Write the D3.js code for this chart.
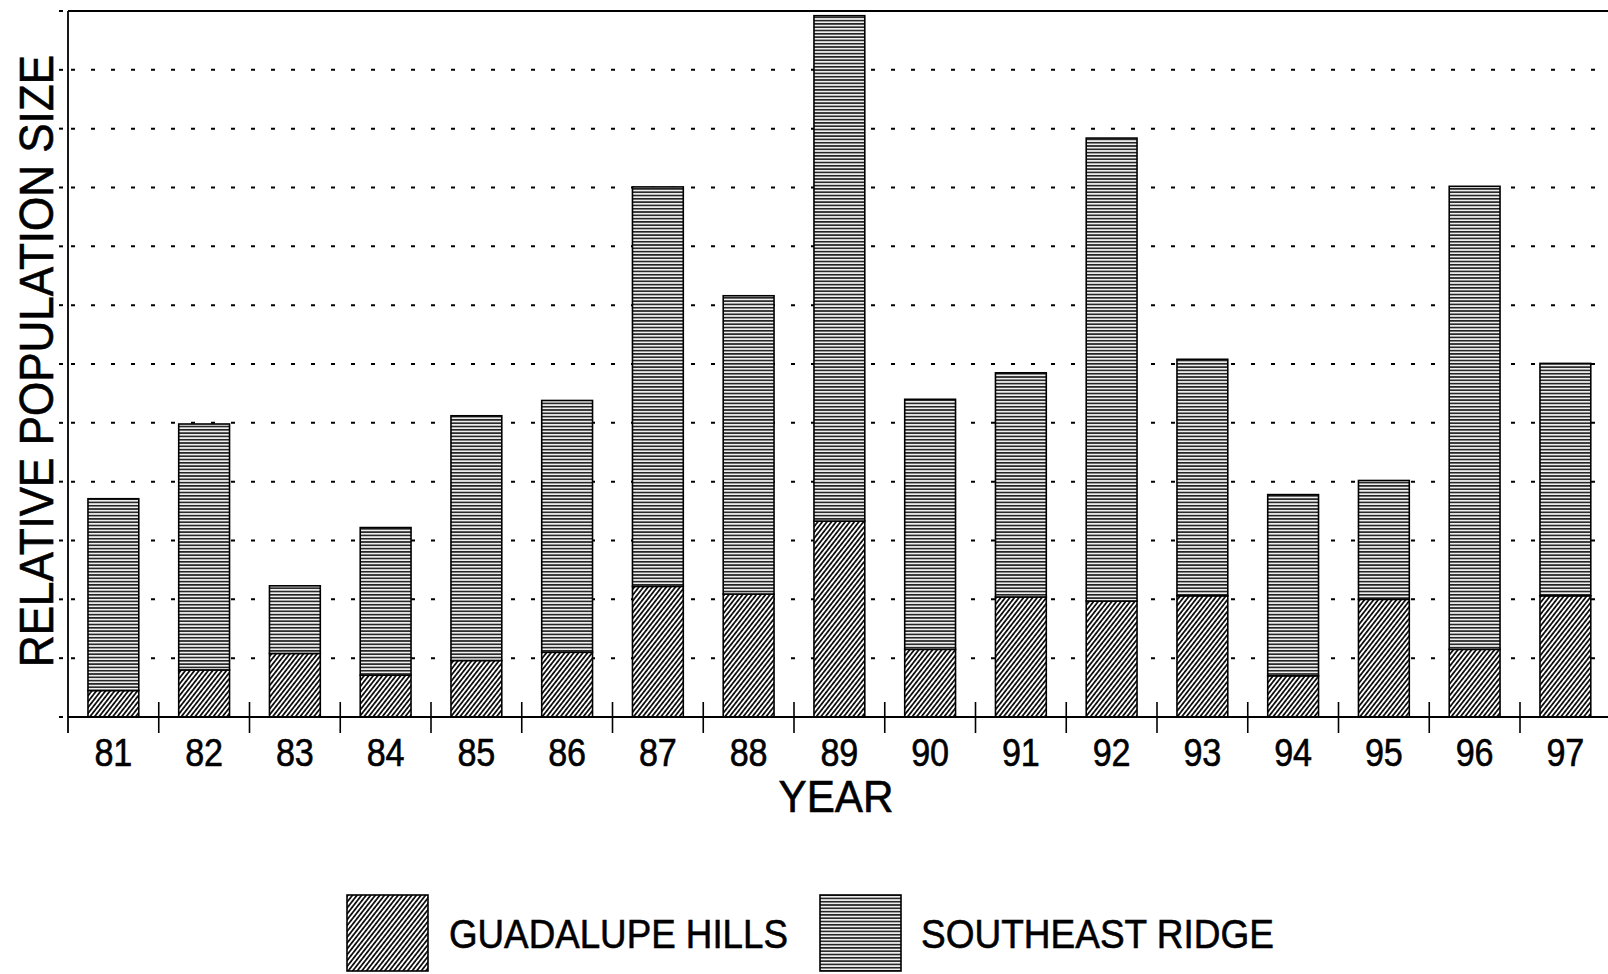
<!DOCTYPE html>
<html><head><meta charset="utf-8">
<script src="https://cdn.jsdelivr.net/npm/d3@7"></script>
<style>
body{margin:0;background:#fff;}
svg{display:block;}
text{font-family:"Liberation Sans",Arial,Helvetica,sans-serif;fill:#000;stroke:#000;stroke-width:0.6px;}
</style>
</head><body>
<svg id="c" width="1608" height="974"></svg>
<script>
// ---- data (values in grid units) ----
const years = ["81","82","83","84","85","86","87","88","89","90","91","92","93","94","95","96","97"];
const guadalupeHills = [0.45,0.80,1.08,0.71,0.96,1.10,2.22,2.09,3.33,1.15,2.04,1.97,2.06,0.70,2.00,1.15,2.06];
const southeastRidge = [3.26,4.18,1.15,2.51,4.16,4.28,6.79,5.07,8.59,4.25,3.81,7.87,4.02,3.08,2.02,7.87,3.95];
const seriesNames = ["GUADALUPE HILLS","SOUTHEAST RIDGE"];
const yTickValues = [0,1,2,3,4,5,6,7,8,9,10,11,12];

const rows = years.map((y,i)=>({year:y, gh:guadalupeHills[i], se:southeastRidge[i]}));
const stack = d3.stack().keys(["gh","se"])(rows);

const svg = d3.select("#c");
const X0 = 68, STEP = 90.75;
const x = d3.scaleBand().domain(years).range([X0, X0 + STEP*years.length])
  .paddingInner(0.44).paddingOuter(0.22);
const y = d3.scaleLinear().domain([0,12]).range([717, 11]);

// patterns
const defs = svg.append("defs");
const p1 = defs.append("pattern").attr("id","hatch").attr("patternUnits","userSpaceOnUse")
  .attr("width",3.6).attr("height",10).attr("patternTransform","rotate(38)");
p1.append("rect").attr("width",3.6).attr("height",10).attr("fill","#fff");
p1.append("rect").attr("x",0).attr("width",1.8).attr("height",10).attr("fill","#111");
const p2 = defs.append("pattern").attr("id","hstripe").attr("patternUnits","userSpaceOnUse")
  .attr("width",10).attr("height",3.3);
p2.append("rect").attr("width",10).attr("height",3.3).attr("fill","#eee");
p2.append("rect").attr("y",0).attr("width",10).attr("height",1.6).attr("fill","#222");
const fills = {gh:"url(#hatch)", se:"url(#hstripe)"};

// dotted grid lines
svg.append("g").selectAll("line").data(yTickValues.filter(v=>v>0 && v<12)).join("line")
  .attr("x1",X0+3).attr("x2",1608).attr("y1",d=>y(d)).attr("y2",d=>y(d))
  .attr("stroke","#000").attr("stroke-width",2).attr("stroke-dasharray","4,16");

// small left tick marks
svg.append("g").selectAll("line").data(yTickValues).join("line")
  .attr("x1",X0-9).attr("x2",X0-5).attr("y1",d=>y(d)).attr("y2",d=>y(d))
  .attr("stroke","#000").attr("stroke-width",2);

// top frame line
svg.append("line").attr("x1",X0).attr("x2",1608).attr("y1",y(12)).attr("y2",y(12))
  .attr("stroke","#000").attr("stroke-width",1.8);

// bars
svg.append("g").selectAll("g").data(stack).join("g")
  .attr("fill",d=>fills[d.key])
  .selectAll("rect").data(d=>d).join("rect")
  .attr("x",d=>x(d.data.year)).attr("width",x.bandwidth())
  .attr("y",d=>y(d[1])).attr("height",d=>y(d[0])-y(d[1]))
  .attr("stroke","#000").attr("stroke-width",1.6);

// baseline
svg.append("line").attr("x1",X0).attr("x2",1608).attr("y1",y(0)).attr("y2",y(0))
  .attr("stroke","#000").attr("stroke-width",1.8);
// y axis
svg.append("line").attr("x1",X0).attr("x2",X0).attr("y1",y(12)).attr("y2",733)
  .attr("stroke","#000").attr("stroke-width",1.8);
// category separators
const slotStart = d => x(d) - (x.step()-x.bandwidth())/2;
svg.append("g").selectAll("line").data(years.slice(1).concat(["end"])).join("line")
  .attr("x1",(d,i)=> d==="end" ? slotStart(years[years.length-1])+x.step() : slotStart(d))
  .attr("x2",(d,i)=> d==="end" ? slotStart(years[years.length-1])+x.step() : slotStart(d))
  .attr("y1",702).attr("y2",733).attr("stroke","#000").attr("stroke-width",1.6);

// x tick labels
const xAxis = svg.append("g");
xAxis.selectAll("text").data(years).join("text")
  .attr("x",d=>x(d)+x.bandwidth()/2).attr("y",766)
  .attr("text-anchor","middle").attr("font-size",39)
  .attr("textLength",38).attr("lengthAdjust","spacingAndGlyphs")
  .text(d=>d);

// axis titles
svg.append("text").attr("x",836).attr("y",812).attr("text-anchor","middle")
  .attr("font-size",44).attr("textLength",115).attr("lengthAdjust","spacingAndGlyphs").text("YEAR");
svg.append("text").attr("transform","translate(53,361) rotate(-90)").attr("text-anchor","middle")
  .attr("font-size",48).attr("textLength",612).attr("lengthAdjust","spacingAndGlyphs")
  .text("RELATIVE POPULATION SIZE");

// legend
const legend = [
  {name:seriesNames[0], fill:fills.gh, sx:347, tx:449, tw:339},
  {name:seriesNames[1], fill:fills.se, sx:820, tx:921, tw:353}
];
const lg = svg.append("g").selectAll("g").data(legend).join("g");
lg.append("rect").attr("x",d=>d.sx).attr("y",895).attr("width",81).attr("height",76)
  .attr("fill",d=>d.fill).attr("stroke","#000").attr("stroke-width",1.6);
lg.append("text").attr("x",d=>d.tx).attr("y",948).attr("font-size",41)
  .attr("textLength",d=>d.tw).attr("lengthAdjust","spacingAndGlyphs").text(d=>d.name);
</script>
</body></html>
